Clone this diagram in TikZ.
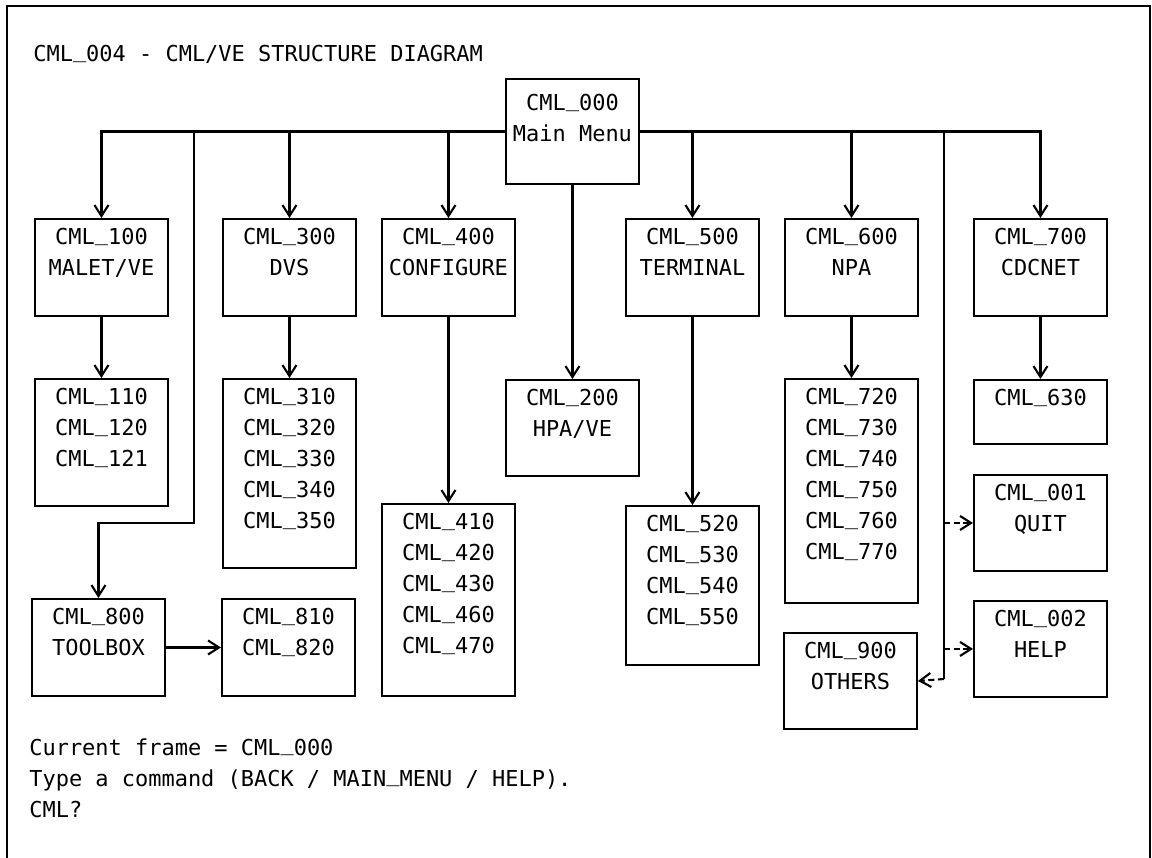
\documentclass[tikz,border=0pt]{standalone}
\usepackage{fontspec}
\setmainfont{DejaVu Sans Mono}
\usetikzlibrary{arrows.meta}
\newcommand{\cmltext}[4]{\parbox[c][#1][t]{#2}{\centering\rule{0pt}{#3}#4}}
\newcommand{\us}{\raisebox{0.2em}{\_}}
\begin{document}
\begin{tikzpicture}[x=0.02cm,y=-0.02cm,
  txt/.style={inner sep=0pt,font=\fontsize{12.5}{17.6}\selectfont},
  cbox/.style={draw,line width=1.1pt,inner sep=0pt,anchor=north west,rectangle,font=\fontsize{12.5}{0.62cm}\selectfont},
  conn/.style={line width=1.2pt},
  arr/.style={line width=1.2pt,-{Straight Barb[length=0.22cm,width=0.28cm]}},
  side/.style={arr,dash pattern=on 3.5pt off 2pt}]
\useasboundingbox (0,0) rectangle (1152,858);
\draw[line width=0.9pt] (7,870) -- (7,6) -- (1150,6) -- (1150,870);
\node[txt,anchor=base west] (title) at (33,62) {CML\us004 - CML/VE STRUCTURE DIAGRAM};
% boxes
\node[cbox] (m000) at (505,78) {\cmltext{2.10cm}{2.66cm}{0.64cm}{CML\us000\\Main Menu}};
\node[cbox] (c100) at (34,218) {\cmltext{1.94cm}{2.66cm}{0.52cm}{CML\us100\\MALET/VE}};
\node[cbox] (c300) at (222,218) {\cmltext{1.94cm}{2.66cm}{0.52cm}{CML\us300\\DVS}};
\node[cbox] (c400) at (381,218) {\cmltext{1.94cm}{2.66cm}{0.52cm}{CML\us400\\CONFIGURE}};
\node[cbox] (c500) at (625,218) {\cmltext{1.94cm}{2.66cm}{0.52cm}{CML\us500\\TERMINAL}};
\node[cbox] (c600) at (784,218) {\cmltext{1.94cm}{2.66cm}{0.52cm}{CML\us600\\NPA}};
\node[cbox] (c700) at (973,218) {\cmltext{1.94cm}{2.66cm}{0.52cm}{CML\us700\\CDCNET}};
\node[cbox] (c110) at (34,378) {\cmltext{2.54cm}{2.66cm}{0.52cm}{CML\us110\\CML\us120\\CML\us121}};
\node[cbox] (c310) at (222,378) {\cmltext{3.78cm}{2.66cm}{0.52cm}{CML\us310\\CML\us320\\CML\us330\\CML\us340\\CML\us350}};
\node[cbox] (c200) at (505,379) {\cmltext{1.92cm}{2.66cm}{0.52cm}{CML\us200\\HPA/VE}};
\node[cbox] (c720) at (784,378) {\cmltext{4.48cm}{2.66cm}{0.52cm}{CML\us720\\CML\us730\\CML\us740\\CML\us750\\CML\us760\\CML\us770}};
\node[cbox] (c630) at (973,379) {\cmltext{1.28cm}{2.66cm}{0.52cm}{CML\us630}};
\node[cbox] (c410) at (381,503) {\cmltext{3.84cm}{2.66cm}{0.52cm}{CML\us410\\CML\us420\\CML\us430\\CML\us460\\CML\us470}};
\node[cbox] (c520) at (625,505) {\cmltext{3.18cm}{2.66cm}{0.52cm}{CML\us520\\CML\us530\\CML\us540\\CML\us550}};
\node[cbox] (c001) at (973,474) {\cmltext{1.92cm}{2.66cm}{0.52cm}{CML\us001\\QUIT}};
\node[cbox] (c800) at (31,598) {\cmltext{1.94cm}{2.66cm}{0.52cm}{CML\us800\\TOOLBOX}};
\node[cbox] (c810) at (221,598) {\cmltext{1.94cm}{2.66cm}{0.52cm}{CML\us810\\CML\us820}};
\node[cbox] (c002) at (973,600) {\cmltext{1.92cm}{2.66cm}{0.52cm}{CML\us002\\HELP}};
\node[cbox] (c900) at (783,632) {\cmltext{1.92cm}{2.66cm}{0.52cm}{CML\us900\\OTHERS}};
% bus coordinates
\coordinate (t8a) at (194,523);
\coordinate (sb) at (944,679);
% connectors from main menu
\draw[arr] (m000.west) -| (c100.north);
\draw[arr] (m000.west) -| (c300.north);
\draw[arr] (m000.west) -| (c400.north);
\draw[arr] (m000.west) -| (t8a) -| (c800.north);
\draw[arr] (m000.south) -- (c200.north);
\draw[arr] (m000.east) -| (c500.north);
\draw[arr] (m000.east) -| (c600.north);
\draw[arr] (m000.east) -| (c700.north);
\draw[conn] (m000.east) -| (sb);
\draw[side] (sb |- c001.west) -- (c001.west);
\draw[side] (sb |- c002.west) -- (c002.west);
\draw[side] (sb) -- (c900.east);
% second level
\draw[arr] (c100.south) -- (c110.north);
\draw[arr] (c300.south) -- (c310.north);
\draw[arr] (c400.south) -- (c410.north);
\draw[arr] (c500.south) -- (c520.north);
\draw[arr] (c600.south) -- (c720.north);
\draw[arr] (c700.south) -- (c630.north);
\draw[arr] (c800.east) -- (c810.west);
% prompt text
\node[txt,anchor=base west] (l1) at (29,755) {Current frame = CML\us000};
\node[txt,anchor=base west] (l2) at (29,786) {Type a command (BACK / MAIN\us MENU / HELP).};
\node[txt,anchor=base west] (l3) at (29,817) {CML?};
\end{tikzpicture}
\end{document}
